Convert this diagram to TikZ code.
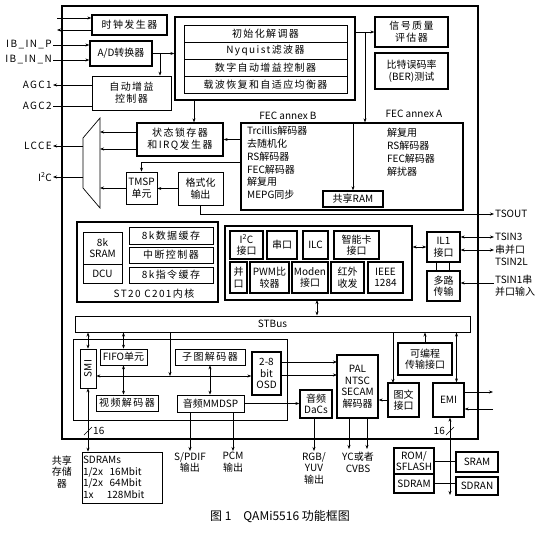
\documentclass[tikz,border=0pt]{standalone}
\usepackage{fontspec}
\usepackage{graphicx}
\setmainfont{Noto Sans CJK SC}
\usetikzlibrary{arrows.meta}

\begin{document}
\begin{tikzpicture}[x=1pt, y=-1pt,
		font=\fontsize{10}{11.5}\selectfont,
		b/.style = {rectangle, draw, fill=white, line width=0.7pt, inner sep=1pt, align=center},
		tb/.style = {b, line width=1.3pt},
		lb/.style = {inner sep=1pt, align=center},
		sp/.style = {font=\fontsize{10}{12}\selectfont\addfontfeature{LetterSpace=14}},
		r/.style = {-{Stealth[length=4pt, width=3pt]}, line width=0.7pt},
		rr/.style = {{Stealth[length=4pt, width=3pt]}-{Stealth[length=4pt, width=3pt]}, line width=0.9pt},
		]
		\useasboundingbox (0,0) rectangle (550,533);
		
		%Chip
		\node[draw, line width=2pt, minimum width=416, minimum height=433] (chip) at (270,222.5) {};
		
		%Nodes
		\node[tb, sp, minimum width=75, minimum height=20]	(clk)	at (129.5,25)	{时钟发生器};
		\node[tb, minimum width=62, minimum height=25]	(adc)	at (121,53.5)	{A/D转换器};
		\node[b, sp, minimum width=79, minimum height=34]	(agc)	at (131.5,93)	{自动增益\\控制器};
		\node[tb, minimum width=180, minimum height=83]	(dem)	at (265,58.5)	{};
		\node[b, sp, minimum width=163, minimum height=17]	(dem1)	at (265.5,33.5)	{初始化解调器};
		\node[b, sp, minimum width=163, minimum height=17]	(dem2)	at (265.5,50.5)	{Nyquist滤波器};
		\node[b, sp, minimum width=163, minimum height=17]	(dem3)	at (265.5,67.5)	{数字自动增益控制器};
		\node[b, sp, minimum width=163, minimum height=17]	(dem4)	at (265.5,84.5)	{载波恢复和自适应均衡器};
		\node[tb, sp, minimum width=73, minimum height=30]	(sq)	at (411.5,32)	{信号质量\\评估器};
		\node[tb, minimum width=73, minimum height=36]	(ber)	at (411.5,71)	{比特误码率\\(BER)测试};
		\node[tb, sp, minimum width=86, minimum height=33]	(irq)	at (180,139.5)	{状态锁存器\\和IRQ发生器};
		\node[tb, minimum width=222, minimum height=87]	(fec)	at (352,166.5)	{};
		\node[lb, anchor=south]	(fecbl)	at (288,121)	{FEC annex B};
		\node[lb, anchor=south]	(fecal)	at (414,119)	{FEC annex A};
		\node[lb, anchor=north west, align=left, font=\fontsize{10}{12.8}\selectfont]	(fecb)	at (246,125)
			{Trcillis解码器\\去随机化\\RS解码器\\FEC解码器\\解复用\\MEPG同步};
		\node[lb, anchor=north west, align=left, font=\fontsize{10}{13}\selectfont]	(feca)	at (386,127)
			{解复用\\RS解码器\\FEC解码器\\解扰器};
		\node[tb, minimum width=60, minimum height=16]	(ram)	at (353,199)	{共享RAM};
		\node[b, minimum width=31, minimum height=32]	(tmsp)	at (141.5,188)	{TMSP\\单元};
		\node[b, minimum width=45, minimum height=33]	(fmt)	at (200.5,188.5)	{格式化\\输出};
		
		%Mux
		\coordinate (mxa) at (83,138);
		\coordinate (mxb) at (100,118);
		\coordinate (mxc) at (100,208);
		\coordinate (mxd) at (83,188);
		\draw[line width=0.7pt] (mxa) -- (mxb) -- (mxc) -- (mxd) -- cycle;
		
		%ST20
		\node[tb, minimum width=141, minimum height=80]	(st)	at (147.5,262)	{};
		\node[b, minimum width=39, minimum height=32]	(sram)	at (102.5,248)	{8k\\SRAM};
		\node[b, minimum width=39, minimum height=19]	(dcu)	at (102.5,273.5)	{DCU};
		\node[b, sp, minimum width=84, minimum height=17]	(dc)	at (171,235.5)	{8k数据缓存};
		\node[b, sp, minimum width=84, minimum height=16]	(intc)	at (171,255)	{中断控制器};
		\node[b, sp, minimum width=84, minimum height=16]	(icc)	at (171,275)	{8k指令缓存};
		\node[lb, sp]	(stl)	at (154,294)	{ST20 C201内核};
		
		%Peripherals
		\node[tb, minimum width=187, minimum height=74]	(per)	at (318.5,263)	{};
		\node[tb, minimum width=33, minimum height=28]	(i2c)	at (246.5,245)	{I\textsuperscript{2}C\\接口};
		\node[tb, minimum width=30, minimum height=28]	(uart)	at (282,245)	{串口};
		\node[tb, minimum width=25, minimum height=28]	(ilc)	at (315.5,245)	{ILC};
		\node[tb, minimum width=45, minimum height=28]	(sc)	at (356.5,245)	{智能卡\\接口};
		\node[tb, minimum width=17, minimum height=31]	(par)	at (238.5,277.5)	{并\\口};
		\node[tb, minimum width=39, minimum height=31]	(pwm)	at (269.5,277.5)	{PWM比\\较器};
		\node[tb, minimum width=36, minimum height=31]	(mdm)	at (310,277.5)	{Moden\\接口};
		\node[tb, minimum width=33, minimum height=31]	(ir)	at (347.5,277.5)	{红外\\收发};
		\node[tb, minimum width=35, minimum height=31]	(ieee)	at (385.5,277.5)	{IEEE\\1284};
		\node[tb, minimum width=33, minimum height=30]	(ili)	at (443.5,247)	{IL1\\接口};
		\node[tb, minimum width=33, minimum height=30]	(mx)	at (443.5,286)	{多路\\传输};
		
		%Bus and video
		\node[b, line width=1pt, minimum width=395, minimum height=16]	(bus)	at (272.5,324)	{STBus};
		\node[b, line width=1pt, minimum width=214, minimum height=81]	(vid)	at (180,379.5)	{};
		\node[b, minimum width=16, minimum height=39]	(smi)	at (88,368.5)	{\rotatebox{90}{SMI}};
		\node[b, minimum width=47, minimum height=16]	(fifo)	at (123.5,357)	{FIFO单元};
		\node[b, sp, minimum width=62, minimum height=16]	(vdec)	at (127,403)	{视频解码器};
		\node[b, sp, minimum width=70, minimum height=16]	(sub)	at (210,357)	{子图解码器};
		\node[b, minimum width=67, minimum height=17]	(dsp)	at (210.5,403.5)	{音频MMDSP};
		\node[tb, minimum width=29, minimum height=43]	(osd)	at (266.5,373.5)	{2-8\\bit\\OSD};
		\node[tb, minimum width=32, minimum height=28]	(dac)	at (316,404)	{音频\\DaCs};
		\node[tb, minimum width=41, minimum height=63]	(pal)	at (357.5,386.5)	{PAL\\NTSC\\SECAM\\解码器};
		\node[tb, minimum width=54, minimum height=32]	(prog)	at (425,359)	{可编程\\传输接口};
		\node[tb, minimum width=31, minimum height=34]	(tw)	at (403.5,400)	{图文\\接口};
		\node[tb, minimum width=31, minimum height=34]	(emi)	at (448.5,400)	{EMI};
		
		%Memories
		\node[tb, minimum width=40, minimum height=26]	(rom)	at (414,461)	{ROM/\\SFLASH};
		\node[tb, minimum width=40, minimum height=19]	(sdr)	at (414,483.5)	{SDRAM};
		\node[tb, minimum width=42, minimum height=20]	(srm)	at (477,462)	{SRAM};
		\node[tb, minimum width=42, minimum height=18]	(sdn)	at (477,486)	{SDRAN};
		\node[b, text width=78, minimum height=51, align=left]	(mem)	at (122,477.5)
			{SDRAMs\\1/2x\ \ 16Mbit\\1/2x\ \ 64Mbit\\1x\quad\ 128Mbit};
		\node[lb]	(meml)	at (62,472)	{共享\\存储\\器};
		
		%Labels
		\node[lb, sp, anchor=east]	(ibp)	at (53,45)	{IB\_IN\_P};
		\node[lb, sp, anchor=east]	(ibn)	at (53,60)	{IB\_IN\_N};
		\node[lb, sp, anchor=east]	(agc1)	at (53,85)	{AGC1};
		\node[lb, sp, anchor=east]	(agc2)	at (53,106)	{AGC2};
		\node[lb, sp, anchor=east]	(lcce)	at (53,146)	{LCCE};
		\node[lb, anchor=east]	(i2cl)	at (53,177)	{I\textsuperscript{2}C};
		\node[lb, anchor=west]	(tso)	at (494,214)	{TSOUT};
		\node[lb, anchor=west]	(ts3)	at (494,237)	{TSIN3};
		\node[lb, anchor=west]	(tsb)	at (494,250)	{串并口};
		\node[lb, anchor=west]	(ts2)	at (494,262)	{TSIN2L};
		\node[lb, anchor=north west, align=left]	(ts1)	at (494,274)	{TSIN1串\\并口输入};
		\node[lb, anchor=north]	(spd)	at (190,451)	{S/PDIF\\输出};
		\node[lb, anchor=north]	(pcm)	at (233,451)	{PCM\\输出};
		\node[lb, anchor=north]	(rgb)	at (314,451)	{RGB/\\YUV\\输出};
		\node[lb, anchor=north]	(yc)	at (358,451)	{YC或者\\CVBS};
		\node[lb, anchor=west]	(n16a)	at (92,431)	{16};
		\node[lb, anchor=east]	(n16b)	at (446,431)	{16};
		\node[lb, font=\fontsize{12}{14}\selectfont]	(cap)	at (280,517)	{图 1\quad QAMi5516 功能框图};
		
		\coordinate (ckin)	at (57,18);
		\coordinate (ckout)	at (57,30);
		\coordinate (adcb)	at (160,53.5);
		\coordinate (dmi)	at (194,100);
		\coordinate (dmo)	at (365,32);
		\coordinate (q1)	at (100,132);
		\coordinate (q2)	at (100,149);
		\coordinate (fq)	at (241,162);
		\coordinate (pb)	at (317,300);
		\coordinate (t1)	at (494,283);
		\coordinate (vb)	at (170,376);
		\coordinate (o1)	at (337,362);
		\coordinate (o2)	at (337,375);
		\coordinate (twin)	at (393,383);
		\coordinate (emo)	at (493,392);
		\coordinate (emin)	at (493,409);
		\coordinate (eb)	at (450,495);
		\coordinate (yca)	at (349,449);
		\coordinate (ycb)	at (367,449);
		
		%Lines
		\draw[r]	(ckin) -- (ckin -| clk.west);
		\draw[r]	(ckout -| clk.west) -- (ckout);
		\draw[r]	(ibp.east) -- (ibp.east -| adc.west);
		\draw[r]	(ibn.east) -- (ibn.east -| adc.west);
		\draw[r]	(adc.east) -- (adc.east -| dem.west);
		\draw[r]	(adcb) -- (adcb |- agc.north);
		\draw[r]	(agc1.east -| agc.west) -- (agc1.east);
		\draw[line width=0.7pt]	(agc2.east -| agc.west) -- (agc2.east);
		\draw[r]	(lcce.east -| mxa) -- (lcce.east);
		\draw[r]	(i2cl.east -| mxa) -- (i2cl.east);
		\draw[r]	(dmi) -- (dmi |- irq.north);
		\draw[r]	(dem.east |- sq.west) -- (sq.west);
		\draw[r]	(dmo) -- (dmo |- fec.north);
		\draw[r]	(fec.north -| ram.north) -- (ram.north);
		\draw[r]	(fec.west |- irq.east) -- (irq.east);
		\draw[r]	(q1 -| irq.west) -- (q1);
		\draw[r]	(q2 -| irq.west) -- (q2);
		\draw[r]	(fq) -| (tmsp.north);
		\draw[r]	(fmt.west) -- (fmt.west -| tmsp.east);
		\draw[r]	(tmsp.west) -- (tmsp.west -| mxc);
		\draw[r]	(fmt.south) |- (tso.west);
		\draw[rr]	(pb) -- (pb |- bus.north);
		\draw[rr]	(per.east |- ili.west) -- (ili.west);
		\draw[line width=0.7pt]	([xshift=-7]ili.south) -- ([xshift=-7]mx.north);
		\draw[line width=0.7pt]	([xshift=6]ili.south) -- ([xshift=6]mx.north);
		\draw[rr]	(ili.east |- ts3.west) -- (ts3.west);
		\draw[rr]	(ili.east |- tsb.west) -- (tsb.west);
		\draw[r]	(t1) -- (t1 -| mx.east);
		\draw[rr]	(bus.south -| smi.north) -- (smi.north);
		\draw[rr]	(bus.south -| fifo.north) -- (fifo.north);
		\draw[rr]	(fifo.south) -- (fifo.south |- vdec.north);
		\draw[r]	(bus.south -| vb) -- (vb);
		\draw[rr]	(smi.east |- vb) -- (osd.west |- vb);
		\draw[rr]	(sub.south) -- (sub.south |- dsp.north);
		\draw[r]	(o1 -| osd.east) -- (o1);
		\draw[r]	(o2 -| osd.east) -- (o2);
		\draw[r]	(dsp.east) -- (dsp.east -| dac.west);
		\draw[r]	(tw.west) -- (tw.west -| pal.east);
		\draw[r]	(bus.south -| twin) -- (twin);
		\draw[r]	(prog.north) -- (prog.north |- bus.south);
		\draw[rr]	([xshift=8]emi.north) -- ([xshift=8]emi.north |- bus.south);
		\draw[r]	(emi.east |- emo) -- (emo);
		\draw[r]	(emin) -- (emin -| emi.east);
		\draw[rr]	(emi.south -| eb) -- (eb);
		\draw[line width=0.7pt]	(446,435) -- (454,427);
		\draw[line width=0.7pt]	(rom.east) -- (rom.east -| srm.west);
		\draw[line width=0.7pt]	(sdr.east) -- (sdr.east -| sdn.west);
		\draw[rr]	(smi.south) -- (smi.south |- mem.north);
		\draw[line width=0.7pt]	(84,435) -- (92,427);
		\draw[r]	(spd.north |- dsp.south) -- (spd.north);
		\draw[r]	(pcm.north |- dsp.south) -- (pcm.north);
		\draw[r]	(rgb.north |- dac.south) -- (rgb.north);
		\draw[r]	(yca |- pal.south) -- (yca);
		\draw[r]	(ycb |- pal.south) -- (ycb);
	\end{tikzpicture}
\end{document}
